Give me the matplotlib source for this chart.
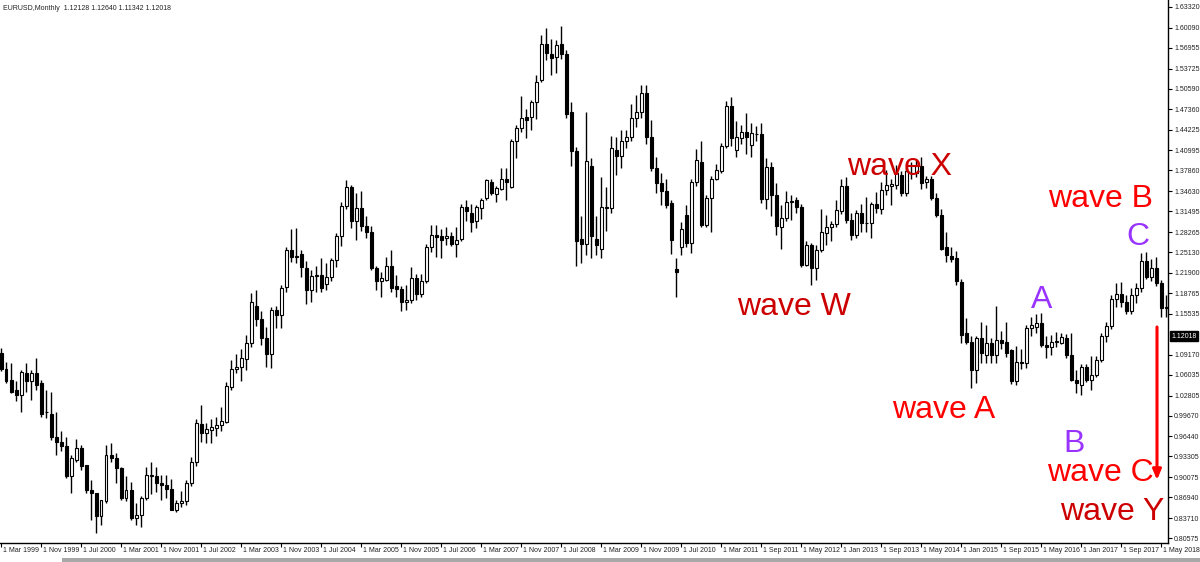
import numpy as np
import matplotlib.pyplot as plt
from matplotlib.patches import Rectangle

# EURUSD monthly candles, one bar per slot from Mar 1999
opens = [
    1.094, 1.070, 1.052, 1.037, 1.029, 1.063, 1.050, 1.063, 1.047, 1.003, 1.000, 0.964,
    0.955, 0.950, 0.903, 0.928, 0.946, 0.920, 0.881, 0.876, 0.840, 0.863, 0.936, 0.930,
    0.915, 0.868, 0.881, 0.837, 0.842, 0.868, 0.903, 0.903, 0.891, 0.889, 0.882, 0.850,
    0.860, 0.863, 0.891, 0.924, 0.984, 0.970, 0.975, 0.978, 0.982, 0.987, 1.042, 1.070,
    1.073, 1.085, 1.110, 1.168, 1.147, 1.117, 1.093, 1.162, 1.153, 1.197, 1.255, 1.244,
    1.248, 1.226, 1.193, 1.214, 1.216, 1.202, 1.213, 1.239, 1.277, 1.323, 1.353, 1.300,
    1.320, 1.292, 1.282, 1.226, 1.206, 1.208, 1.230, 1.198, 1.194, 1.173, 1.177, 1.211,
    1.186, 1.207, 1.259, 1.278, 1.276, 1.273, 1.277, 1.264, 1.272, 1.321, 1.312, 1.300,
    1.320, 1.335, 1.361, 1.342, 1.350, 1.365, 1.353, 1.425, 1.445, 1.462, 1.462, 1.485,
    1.519, 1.575, 1.560, 1.556, 1.575, 1.560, 1.469, 1.409, 1.272, 1.264, 1.385, 1.272,
    1.257, 1.320, 1.320, 1.410, 1.401, 1.424, 1.430, 1.461, 1.469, 1.499, 1.431, 1.382,
    1.359, 1.346, 1.328, 1.225, 1.260, 1.309, 1.265, 1.360, 1.392, 1.294, 1.335, 1.366,
    1.377, 1.416, 1.479, 1.410, 1.429, 1.438, 1.418, 1.435, 1.435, 1.334, 1.384, 1.340,
    1.290, 1.304, 1.330, 1.333, 1.321, 1.231, 1.263, 1.226, 1.254, 1.281, 1.291, 1.295,
    1.316, 1.354, 1.302, 1.278, 1.312, 1.296, 1.296, 1.326, 1.318, 1.348, 1.355, 1.356,
    1.372, 1.344, 1.374, 1.374, 1.385, 1.361, 1.366, 1.335, 1.309, 1.259, 1.246, 1.242,
    1.205, 1.125, 1.112, 1.068, 1.117, 1.091, 1.110, 1.091, 1.115, 1.112, 1.099, 1.050,
    1.081, 1.078, 1.133, 1.135, 1.141, 1.107, 1.104, 1.112, 1.110, 1.117, 1.091, 1.052,
    1.045, 1.073, 1.052, 1.060, 1.083, 1.120, 1.136, 1.178, 1.186, 1.174, 1.159, 1.185,
    1.195, 1.237, 1.213, 1.226, 1.203, 1.164,
]
highs = [
    1.102, 1.081, 1.078, 1.050, 1.068, 1.078, 1.068, 1.086, 1.052, 1.037, 1.034, 1.003,
    0.972, 0.964, 0.936, 0.961, 0.951, 0.920, 0.897, 0.876, 0.865, 0.951, 0.954, 0.938,
    0.917, 0.902, 0.894, 0.860, 0.872, 0.917, 0.925, 0.917, 0.904, 0.904, 0.898, 0.866,
    0.879, 0.897, 0.933, 0.991, 1.013, 0.985, 0.991, 0.995, 1.010, 1.049, 1.083, 1.093,
    1.101, 1.123, 1.188, 1.193, 1.159, 1.135, 1.166, 1.167, 1.200, 1.260, 1.288, 1.289,
    1.255, 1.237, 1.224, 1.230, 1.242, 1.234, 1.243, 1.281, 1.330, 1.364, 1.356, 1.343,
    1.346, 1.307, 1.292, 1.230, 1.221, 1.244, 1.255, 1.216, 1.199, 1.200, 1.228, 1.217,
    1.218, 1.264, 1.294, 1.294, 1.287, 1.291, 1.283, 1.291, 1.327, 1.333, 1.326, 1.325,
    1.336, 1.366, 1.366, 1.355, 1.382, 1.382, 1.428, 1.450, 1.495, 1.475, 1.489, 1.528,
    1.589, 1.601, 1.583, 1.582, 1.603, 1.566, 1.485, 1.415, 1.307, 1.469, 1.398, 1.307,
    1.369, 1.353, 1.432, 1.431, 1.442, 1.442, 1.482, 1.496, 1.512, 1.512, 1.457, 1.399,
    1.374, 1.366, 1.333, 1.242, 1.299, 1.325, 1.365, 1.412, 1.424, 1.340, 1.370, 1.388,
    1.421, 1.486, 1.493, 1.455, 1.450, 1.468, 1.452, 1.448, 1.452, 1.398, 1.392, 1.359,
    1.325, 1.346, 1.340, 1.337, 1.326, 1.268, 1.265, 1.263, 1.318, 1.309, 1.300, 1.333,
    1.366, 1.369, 1.312, 1.317, 1.327, 1.338, 1.330, 1.345, 1.361, 1.380, 1.366, 1.387,
    1.378, 1.383, 1.392, 1.396, 1.399, 1.370, 1.370, 1.344, 1.318, 1.283, 1.259, 1.253,
    1.210, 1.148, 1.120, 1.120, 1.142, 1.138, 1.118, 1.167, 1.128, 1.143, 1.101, 1.105,
    1.100, 1.138, 1.150, 1.155, 1.157, 1.121, 1.122, 1.127, 1.126, 1.124, 1.125, 1.067,
    1.077, 1.077, 1.090, 1.089, 1.126, 1.143, 1.185, 1.203, 1.205, 1.184, 1.195, 1.204,
    1.250, 1.251, 1.240, 1.244, 1.208, 1.185,
]
lows = [
    1.066, 1.047, 1.032, 1.019, 1.003, 1.034, 1.021, 1.037, 0.995, 0.993, 0.959, 0.936,
    0.941, 0.899, 0.876, 0.925, 0.912, 0.876, 0.834, 0.8135, 0.827, 0.860, 0.925, 0.891,
    0.865, 0.863, 0.834, 0.827, 0.824, 0.865, 0.874, 0.878, 0.865, 0.868, 0.849, 0.847,
    0.855, 0.857, 0.887, 0.918, 0.955, 0.954, 0.954, 0.965, 0.972, 0.985, 1.036, 1.063,
    1.050, 1.068, 1.104, 1.137, 1.106, 1.073, 1.071, 1.133, 1.133, 1.190, 1.236, 1.234,
    1.213, 1.171, 1.173, 1.190, 1.190, 1.193, 1.206, 1.228, 1.261, 1.318, 1.289, 1.270,
    1.285, 1.273, 1.224, 1.192, 1.182, 1.206, 1.190, 1.182, 1.159, 1.161, 1.172, 1.177,
    1.182, 1.203, 1.252, 1.244, 1.242, 1.263, 1.261, 1.244, 1.268, 1.300, 1.282, 1.289,
    1.303, 1.332, 1.340, 1.330, 1.348, 1.333, 1.351, 1.398, 1.439, 1.429, 1.441, 1.458,
    1.516, 1.551, 1.528, 1.530, 1.552, 1.460, 1.385, 1.229, 1.234, 1.247, 1.242, 1.247,
    1.242, 1.284, 1.313, 1.371, 1.382, 1.413, 1.425, 1.447, 1.460, 1.420, 1.377, 1.343,
    1.325, 1.320, 1.249, 1.182, 1.247, 1.260, 1.250, 1.355, 1.290, 1.291, 1.283, 1.363,
    1.374, 1.413, 1.416, 1.400, 1.420, 1.405, 1.399, 1.425, 1.328, 1.318, 1.307, 1.278,
    1.257, 1.300, 1.302, 1.312, 1.228, 1.229, 1.200, 1.208, 1.251, 1.263, 1.268, 1.290,
    1.310, 1.297, 1.271, 1.273, 1.283, 1.283, 1.273, 1.312, 1.310, 1.340, 1.325, 1.350,
    1.339, 1.339, 1.365, 1.369, 1.350, 1.352, 1.333, 1.306, 1.255, 1.236, 1.236, 1.200,
    1.110, 1.108, 1.039, 1.047, 1.078, 1.079, 1.078, 1.078, 1.100, 1.088, 1.046, 1.045,
    1.070, 1.071, 1.120, 1.125, 1.104, 1.086, 1.091, 1.104, 1.108, 1.086, 1.050, 1.032,
    1.029, 1.049, 1.037, 1.057, 1.080, 1.112, 1.131, 1.166, 1.166, 1.155, 1.155, 1.172,
    1.190, 1.210, 1.207, 1.198, 1.151, 1.151,
]
closes = [
    1.070, 1.050, 1.034, 1.029, 1.065, 1.050, 1.063, 1.045, 1.000, 1.002, 0.964, 0.955,
    0.950, 0.903, 0.930, 0.946, 0.918, 0.881, 0.876, 0.840, 0.865, 0.936, 0.930, 0.915,
    0.868, 0.881, 0.837, 0.842, 0.868, 0.904, 0.904, 0.891, 0.889, 0.882, 0.850, 0.860,
    0.864, 0.892, 0.925, 0.985, 0.970, 0.976, 0.979, 0.982, 0.989, 1.043, 1.070, 1.073,
    1.086, 1.110, 1.173, 1.147, 1.117, 1.093, 1.162, 1.153, 1.195, 1.255, 1.244, 1.246,
    1.228, 1.193, 1.214, 1.216, 1.195, 1.213, 1.239, 1.277, 1.323, 1.353, 1.300, 1.320,
    1.292, 1.282, 1.226, 1.206, 1.211, 1.230, 1.195, 1.194, 1.173, 1.177, 1.211, 1.186,
    1.207, 1.259, 1.278, 1.275, 1.271, 1.277, 1.264, 1.271, 1.321, 1.316, 1.299, 1.321,
    1.333, 1.364, 1.343, 1.351, 1.365, 1.360, 1.425, 1.445, 1.461, 1.457, 1.485, 1.517,
    1.575, 1.561, 1.554, 1.574, 1.560, 1.466, 1.409, 1.269, 1.264, 1.393, 1.276, 1.262,
    1.321, 1.322, 1.413, 1.401, 1.424, 1.430, 1.461, 1.469, 1.499, 1.431, 1.382, 1.359,
    1.346, 1.325, 1.270, 1.220, 1.287, 1.265, 1.360, 1.395, 1.294, 1.335, 1.366, 1.379,
    1.416, 1.479, 1.429, 1.430, 1.438, 1.431, 1.437, 1.436, 1.334, 1.384, 1.340, 1.292,
    1.304, 1.329, 1.331, 1.321, 1.231, 1.263, 1.226, 1.255, 1.282, 1.291, 1.295, 1.317,
    1.354, 1.302, 1.278, 1.313, 1.296, 1.297, 1.327, 1.320, 1.348, 1.356, 1.357, 1.375,
    1.344, 1.378, 1.375, 1.386, 1.359, 1.366, 1.335, 1.309, 1.257, 1.247, 1.240, 1.206,
    1.122, 1.112, 1.068, 1.117, 1.094, 1.110, 1.091, 1.115, 1.110, 1.094, 1.050, 1.081,
    1.078, 1.133, 1.138, 1.141, 1.107, 1.104, 1.112, 1.113, 1.119, 1.091, 1.052, 1.047,
    1.073, 1.052, 1.060, 1.083, 1.120, 1.136, 1.179, 1.186, 1.174, 1.159, 1.185, 1.195,
    1.237, 1.213, 1.226, 1.203, 1.164, 1.166,
]

date_labels = [
    "1 Mar 1999", "1 Nov 1999", "1 Jul 2000", "1 Mar 2001", "1 Nov 2001", "1 Jul 2002",
    "1 Mar 2003", "1 Nov 2003", "1 Jul 2004", "1 Mar 2005", "1 Nov 2005", "1 Jul 2006",
    "1 Mar 2007", "1 Nov 2007", "1 Jul 2008", "1 Mar 2009", "1 Nov 2009", "1 Jul 2010",
    "1 Mar 2011", "1 Sep 2011", "1 May 2012", "1 Jan 2013", "1 Sep 2013", "1 May 2014",
    "1 Jan 2015", "1 Sep 2015", "1 May 2016", "1 Jan 2017", "1 Sep 2017", "1 May 2018",
]
price_ticks = [
    1.63320, 1.60090, 1.56955, 1.53725, 1.50590, 1.47360, 1.44225, 1.40995, 1.37860,
    1.34630, 1.31495, 1.28265, 1.25130, 1.21900, 1.18765, 1.15535, 1.09170, 1.06035,
    1.02805, 0.99670, 0.96440, 0.93305, 0.90075, 0.86940, 0.83710, 0.80575,
]
last_price = 1.12018
header = "EURUSD,Monthly  1.12128 1.12640 1.11342 1.12018"

# wave labels: (text, bar index, price at baseline, colour)
waves = [
    ("wave X", 179.8, 1.3715, "#cc0000"),
    ("wave W", 158.6, 1.1534, "#cc0000"),
    ("wave A", 188.6, 0.9930, "#ff0000"),
    ("wave B", 220.0, 1.3217, "#ff0000"),
    ("wave C", 219.8, 0.8949, "#ff0000"),
    ("wave Y", 222.2, 0.8341, "#cc0000"),
    ("C", 227.4, 1.2625, "#9933ff"),
    ("A", 208.2, 1.1643, "#9933ff"),
    ("B", 214.6, 0.9400, "#9933ff"),
]

small = dict(fontsize=5.0, color="#222222", family=["Liberation Sans", "DejaVu Sans"])

o = np.array(opens)
h = np.array(highs)
l = np.array(lows)
c = np.array(closes)
x = np.arange(len(o))
up = c >= o

fig = plt.figure(figsize=(12, 5.62), dpi=100)
ax = fig.add_axes([0, 19 / 562, 1168 / 1200, 543 / 562])

ax.vlines(x, l, h, color="black", lw=1.0, zorder=2)
ax.bar(x[up], c[up] - o[up], bottom=o[up], width=0.6, color="white",
       edgecolor="black", lw=0.8, zorder=3)
ax.bar(x[~up], o[~up] - c[~up], bottom=c[~up], width=0.6, color="black",
       edgecolor="black", lw=0.8, zorder=3)

ax.set_xlim(-0.2, 233.4)
ax.set_ylim(0.7983, 1.6441)

for s in ["left", "top"]:
    ax.spines[s].set_visible(False)
for s in ["right", "bottom"]:
    ax.spines[s].set_color("black")
    ax.spines[s].set_linewidth(1)

# price axis on the right
ax.yaxis.tick_right()
ax.set_yticks(price_ticks)
ax.set_yticklabels(["%.5f" % p for p in price_ticks], **small)
ax.tick_params(axis="y", length=3, width=0.8, pad=1.5)

# date axis: a label every 8 bars
tick_pos = [8 * k for k in range(len(date_labels))]
ax.set_xticks(tick_pos)
ax.tick_params(axis="x", length=3, width=0.8, labelbottom=False)
for pos, lab in zip(tick_pos, date_labels):
    ax.annotate(lab, xy=(pos, 0), xycoords=("data", "axes fraction"),
                xytext=(2, -8), textcoords="offset pixels",
                ha="left", va="center", annotation_clip=False, **small)

# current price box
ax.annotate("%.5f" % last_price, xy=(1, last_price), xycoords=("axes fraction", "data"),
            xytext=(3, 0), textcoords="offset pixels", ha="left", va="center",
            fontsize=5.0, color="white", family=["Liberation Sans", "DejaVu Sans"],
            annotation_clip=False,
            bbox=dict(boxstyle="square,pad=0.2", fc="black", ec="black"))

fig.text(3 / 1200, 1 - 8 / 562, header, va="center", **small)

for txt, xi, yp, col in waves:
    ax.text(xi, yp, txt, color=col, fontsize=23, ha="center", va="baseline",
            family=["Liberation Sans", "DejaVu Sans"], zorder=5)

ax.annotate("", xy=(231.2, 0.8964), xytext=(231.2, 1.1348),
            arrowprops=dict(arrowstyle="-|>,head_length=0.6,head_width=0.25",
                            color="#ff0000", lw=2.2, shrinkA=0, shrinkB=0))

fig.add_artist(Rectangle((62 / 1200, 0), 1, 4 / 562, transform=fig.transFigure,
                         color="#a8a8a8", lw=0))

fig.savefig("out.png", dpi=100)
